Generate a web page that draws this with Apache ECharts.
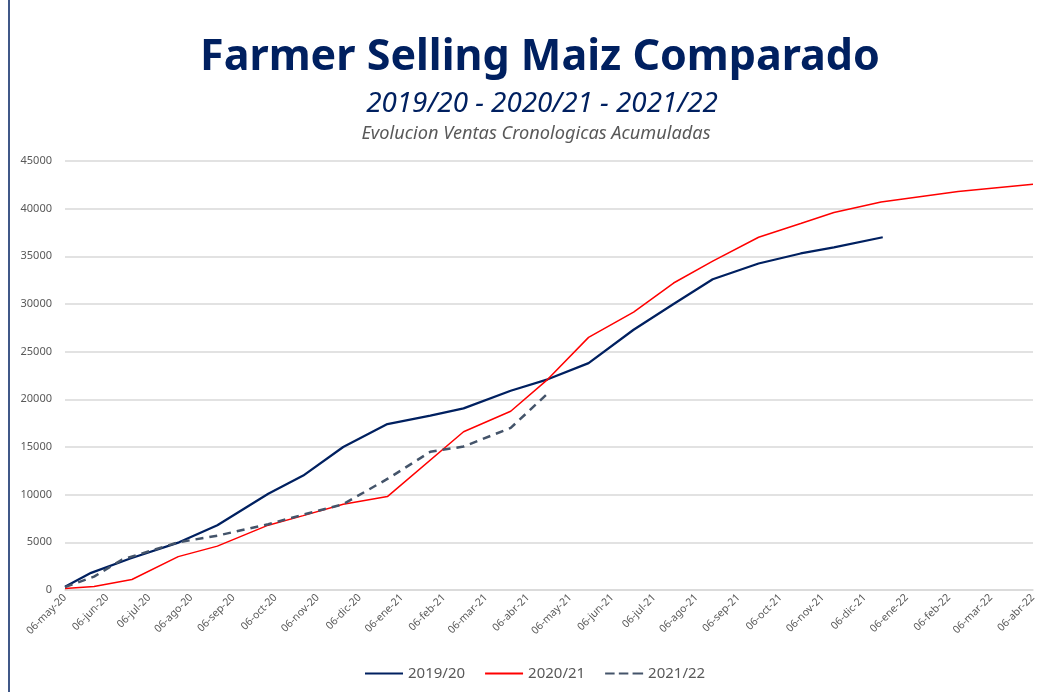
<!DOCTYPE html>
<html>
<head>
<meta charset="utf-8">
<script src="https://cdn.jsdelivr.net/npm/echarts@6/dist/echarts.min.js"></script>
<style>
  body { margin: 0; background: #fff; }
  #main { width: 1053px; height: 692px; }
</style>
</head>
<body>
<div id="main"></div>
<script>
// etiquetas del eje x (una por mes)
var meses = ['06-may-20', '06-jun-20', '06-jul-20', '06-ago-20', '06-sep-20', '06-oct-20',
    '06-nov-20', '06-dic-20', '06-ene-21', '06-feb-21', '06-mar-21', '06-abr-21',
    '06-may-21', '06-jun-21', '06-jul-21', '06-ago-21', '06-sep-21', '06-oct-21',
    '06-nov-21', '06-dic-21', '06-ene-22', '06-feb-22', '06-mar-22', '06-abr-22'];

var campanias = ['2019/20', '2020/21', '2021/22'];

// [posicion en meses desde 06-may-20, toneladas acumuladas]
var ventas1920 = [[0, 350], [0.62, 1800], [1.55, 3300], [2.71, 5000], [3.62, 6800], [4.83, 10100],
    [5.66, 12000], [6.61, 15000], [7.66, 17400], [8.68, 18300], [9.47, 19050], [10.59, 20900],
    [11.47, 22100], [12.44, 23800], [13.51, 27300], [14.46, 30000], [15.39, 32600], [16.48, 34250],
    [17.48, 35300], [18.27, 35950], [19.43, 37000]];

var ventas2021 = [[0, 150], [0.69, 370], [1.59, 1100], [2.69, 3500], [3.62, 4600], [4.83, 6800],
    [5.66, 7800], [6.61, 9000], [7.66, 9800], [9.47, 16600], [10.59, 18750], [11.47, 22100],
    [12.44, 26500], [13.51, 29150], [14.46, 32200], [15.39, 34500], [16.48, 37000], [17.48, 38450],
    [18.27, 39600], [19.39, 40700], [21.22, 41800], [23, 42550]];

var ventas2122 = [[0, 300], [0.69, 1400], [1.36, 3200], [2.69, 5000], [3.62, 5700], [4.83, 6900],
    [5.66, 7900], [6.61, 9000], [7.68, 11700], [8.68, 14500], [9.47, 15050], [10.59, 17000],
    [11.49, 20700]];

var chart = echarts.init(document.getElementById('main'));
var gris = '#595959';
var lineaLlena = 'path://M0,0H36V2H0Z';
var lineaCortada = 'path://M0,0H9V2H0Z M13,0H22V2H13Z M26,0H36V2H26Z';

var option = {
    backgroundColor: '#fff',
    title: [{
        text: 'Farmer Selling Maiz Comparado',
        left: 535,
        textAlign: 'center',
        top: 31,
        textStyle: { fontFamily: 'Noto Sans', fontWeight: 'bold', fontSize: 43, color: '#002060' }
    }, {
        text: '2019/20 - 2020/21 - 2021/22',
        left: 537,
        textAlign: 'center',
        top: 85,
        textStyle: { fontFamily: 'Noto Sans', fontStyle: 'italic', fontWeight: 'normal', fontSize: 27.8, color: '#002060' }
    }, {
        text: 'Evolucion Ventas Cronologicas Acumuladas',
        left: 531,
        textAlign: 'center',
        top: 120,
        textStyle: { fontFamily: 'Noto Sans', fontStyle: 'italic', fontWeight: 'normal', fontSize: 18.2, color: gris }
    }],
    graphic: [{
        type: 'line',
        shape: { x1: 9, y1: 0, x2: 9, y2: 692 },
        style: { stroke: '#002060', lineWidth: 1.5 }
    }],
    legend: {
        data: [
            { name: campanias[0], icon: lineaLlena },
            { name: campanias[1], icon: lineaLlena },
            { name: campanias[2], icon: lineaCortada }
        ],
        bottom: 6,
        left: 360,
        itemWidth: 38,
        itemHeight: 2.5,
        itemGap: 20,
        textStyle: { fontFamily: 'Noto Sans', fontSize: 15, color: gris }
    },
    grid: { left: 65, right: 20, top: 161, bottom: 102 },
    xAxis: {
        type: 'value',
        min: 0,
        max: 23,
        interval: 1,
        axisLine: { show: true, lineStyle: { color: '#D9D9D9', width: 1.5 } },
        axisTick: { show: false },
        splitLine: { show: false },
        axisLabel: {
            rotate: 45,
            margin: 6,
            fontFamily: 'Noto Sans',
            fontSize: 10.5,
            color: gris,
            formatter: function (v) { return meses[v]; }
        }
    },
    yAxis: {
        type: 'value',
        min: 0,
        max: 45000,
        interval: 5000,
        axisLine: { show: false },
        axisTick: { show: false },
        splitLine: { lineStyle: { color: '#D9D9D9', width: 1.5 } },
        axisLabel: {
            margin: 13,
            fontFamily: 'Noto Sans',
            fontSize: 11,
            color: gris,
            formatter: function (v) { return String(v); }
        }
    },
    series: [{
        name: campanias[0],
        type: 'line',
        data: ventas1920,
        symbol: 'none',
        lineStyle: { color: '#002060', width: 2.25 },
        itemStyle: { color: '#002060' }
    }, {
        name: campanias[1],
        type: 'line',
        data: ventas2021,
        symbol: 'none',
        lineStyle: { color: '#FF0000', width: 1.5 },
        itemStyle: { color: '#FF0000' }
    }, {
        name: campanias[2],
        type: 'line',
        data: ventas2122,
        symbol: 'none',
        lineStyle: { color: '#44546A', width: 2.5, type: [8, 6] },
        itemStyle: { color: '#44546A' }
    }]
};

chart.setOption(option);
</script>
</body>
</html>
